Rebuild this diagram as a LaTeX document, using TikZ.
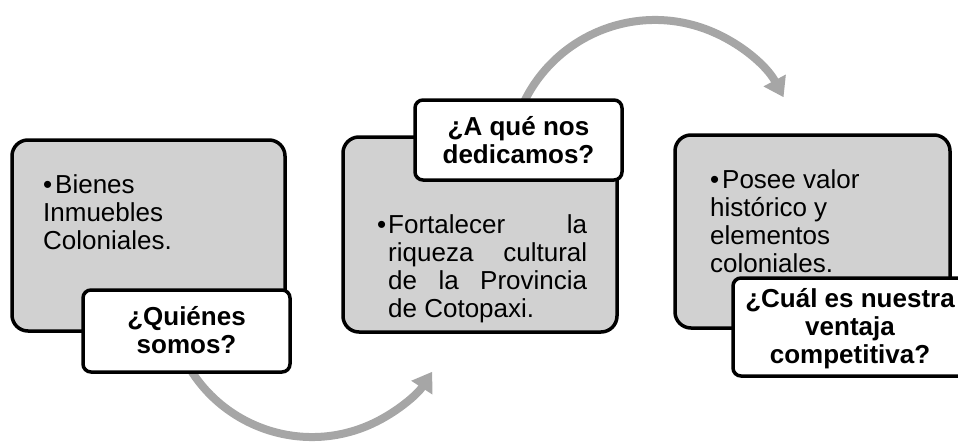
\documentclass[tikz,border=0pt]{standalone}
\usepackage{fontspec}
\setmainfont{Liberation Sans}
\usetikzlibrary{arrows.meta}
\definecolor{boxgray}{RGB}{209,209,209}
\definecolor{arrowgray}{RGB}{166,166,166}
\begin{document}
\begin{tikzpicture}[x=1pt,y=-1pt,
  graybox/.style={draw=black, line width=3.5pt, fill=boxgray, rounded corners=16pt, inner sep=0pt},
  labelbox/.style={draw=black, line width=3.5pt, fill=white, rounded corners=8pt, inner sep=0pt},
  bodytext/.style={anchor=base west, inner sep=0pt, font=\fontsize{26pt}{28pt}\selectfont},
  labeltext/.style={anchor=base, inner sep=0pt, font=\fontsize{26pt}{28pt}\selectfont\bfseries},
  flow/.style={draw=arrowgray, line width=8pt, -{Triangle[length=19pt,width=24pt]}}]
\useasboundingbox (0,0) rectangle (958,444);
\clip (0,0) rectangle (958,444);

% curved arrows (behind the boxes)
\coordinate (a1s) at ({312+143.3*cos(155)},{293.7+143.3*sin(155)});
\draw[flow] (a1s) arc[start angle=155, end angle=33, radius=143.3];
\coordinate (a2s) at ({655+145.6*cos(200)},{165.6+145.6*sin(200)});
\draw[flow] (a2s) arc[start angle=200, end angle=332, radius=145.6];

% block 1
\node[graybox, minimum width=273pt, minimum height=191pt] (b1) at (148.5,235.5) {};
\node[bodytext] (t1) at (43,193) {\parbox[t]{230pt}{\raggedright\hangindent=12pt\hangafter=1\makebox[12pt][l]{•}Bienes\\Inmuebles\\Coloniales.}};
\node[labelbox, minimum width=207pt, minimum height=82pt] (l1) at (186.5,331) {};
\node[labeltext] (q1) at (186.5,325) {\parbox[t]{240pt}{\centering ¿Quiénes\\somos?}};

% block 2
\node[graybox, minimum width=274pt, minimum height=195pt] (b2) at (480,234.5) {};
\node[bodytext] (t2) at (377,233) {\parbox[t]{210pt}{\hangindent=11pt\hangafter=1\makebox[11pt][l]{•}Fortalecer\hfill la\\riqueza\hfill cultural\\de\hfill la\hfill Provincia\\de Cotopaxi.\hfill\null}};
\node[labelbox, minimum width=207pt, minimum height=80pt] (l2) at (518.5,140) {};
\node[labeltext] (q2) at (518.5,135) {\parbox[t]{240pt}{\centering ¿A qué nos\\dedicamos?}};

% block 3
\node[graybox, minimum width=275pt, minimum height=193pt] (b3) at (812.5,231.5) {};
\node[bodytext] (t3) at (710,188) {\parbox[t]{230pt}{\raggedright\hangindent=12pt\hangafter=1\makebox[12pt][l]{•}Posee valor\\histórico y\\elementos\\coloniales.}};
\node[labelbox, minimum width=234pt, minimum height=98pt] (l3) at (850,327) {};
\node[labeltext] (q3) at (850,307) {\parbox[t]{240pt}{\centering ¿Cuál es nuestra\\ventaja\\competitiva?}};
\end{tikzpicture}
\end{document}
